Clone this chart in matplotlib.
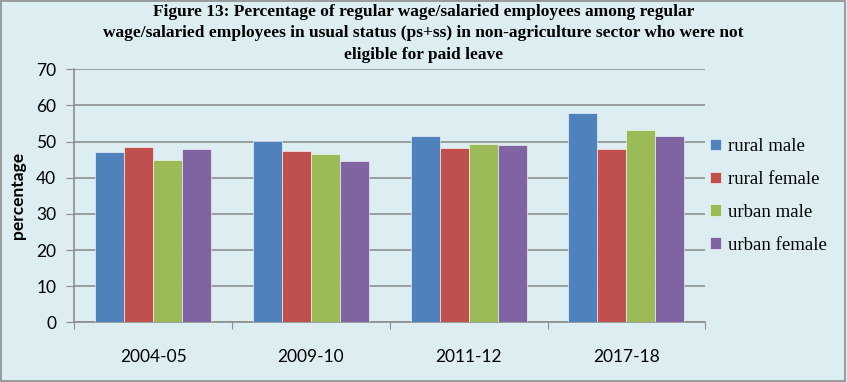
import numpy as np
import matplotlib.pyplot as plt
from matplotlib.patches import Rectangle

years = ['2004-05', '2009-10', '2011-12', '2017-18']
rural_male = [47.1, 50.2, 51.6, 57.9]
rural_female = [48.6, 47.5, 48.1, 47.8]
urban_male = [44.8, 46.5, 49.3, 53.1]
urban_female = [47.8, 44.5, 48.9, 51.6]

series = [('rural male', rural_male, '#4F81BD'),
          ('rural female', rural_female, '#C0504D'),
          ('urban male', urban_male, '#9BBB59'),
          ('urban female', urban_female, '#8064A2')]

plt.rcParams['font.family'] = 'Liberation Serif'
bg = '#DDEEF3'
sans = 'Lato'

fig = plt.figure(figsize=(8.47, 3.82), dpi=100, facecolor=bg)
fig.patches.append(Rectangle((0.001, 0.002), 0.997, 0.995, transform=fig.transFigure,
                             fill=False, edgecolor='#8C8C8C', linewidth=1.2))
ax = fig.add_axes([0.0877, 0.156, 0.745, 0.663])
ax.set_facecolor(bg)

x = np.arange(len(years))
w = 0.184
for i, (name, vals, col) in enumerate(series):
    ax.bar(x + (i - 1.5) * w, vals, w, color=col, label=name,
           edgecolor='white', linewidth=0.4, zorder=3)

ax.set_xlim(-0.5, 3.5)
ax.set_ylim(0, 70)
ax.set_yticks(range(0, 71, 10))
ax.yaxis.grid(True, color='#8E8E8E', linewidth=1.2, zorder=0)
ax.set_xticks([-0.5, 0.5, 1.5, 2.5, 3.5])
ax.set_xticklabels([])
ax.set_xticks(x, minor=True)
ax.set_xticklabels(years, minor=True, fontsize=12.5, family=sans)
for lbl in ax.get_yticklabels():
    lbl.set_family(sans)
ax.tick_params(axis='x', which='minor', length=0, pad=19)
ax.tick_params(axis='x', which='major', length=5, color='#8E8E8E')
ax.tick_params(axis='y', length=6, color='#8E8E8E', labelsize=12.5, pad=7)

for s in ['top', 'right']:
    ax.spines[s].set_visible(False)
for s in ['left', 'bottom']:
    ax.spines[s].set_color('#8E8E8E')
    ax.spines[s].set_linewidth(1.2)

ax.set_ylabel('percentage', fontsize=12.5, fontweight='bold', family=sans, labelpad=7)

fig.text(0.5, 0.99, 'Figure 13: Percentage of regular wage/salaried employees among regular\n'
         'wage/salaried employees in usual status (ps+ss) in non-agriculture sector who were not\n'
         'eligible for paid leave', ha='center', va='top', fontsize=12.5,
         fontweight='bold', linespacing=1.45)

ax.legend(loc='center left', bbox_to_anchor=(0.987, 0.5), frameon=False,
          fontsize=13.5, handlelength=0.55, handleheight=0.55, labelspacing=0.85,
          handletextpad=0.4, borderaxespad=0.3)

plt.savefig('out.png', dpi=100, facecolor=bg)
